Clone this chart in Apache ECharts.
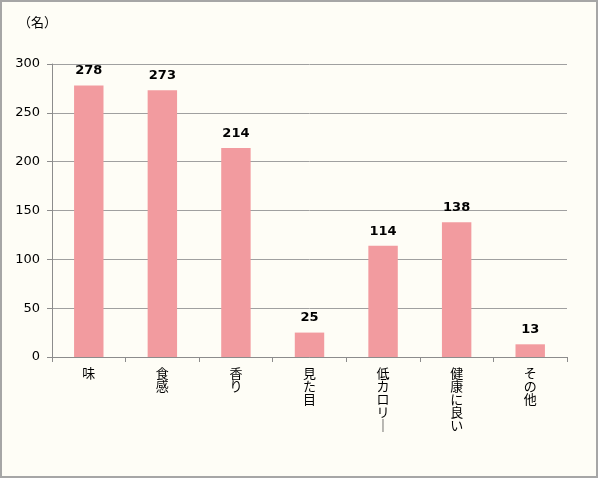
<!DOCTYPE html>
<html><head><meta charset="utf-8">
<script src="https://cdn.jsdelivr.net/npm/echarts@6/dist/echarts.min.js"></script>
<style>
html,body{margin:0;padding:0;background:#fff;}
#frame{position:absolute;left:0;top:0;width:594px;height:474px;border:2px solid #a6a6a6;background:#fefdf6;}
#c{position:absolute;left:-2px;top:-2px;width:600px;height:479px;}
</style></head>
<body>
<div id="frame"><div id="c"></div></div>
<script>
var categories = ['味','食感','香り','見た目','低カロリー','健康に良い','その他'];
var values = [278, 273, 214, 25, 114, 138, 13];
var yTicks = [0, 50, 100, 150, 200, 250, 300];
var unitLabel = '（名）';

var chart = echarts.init(document.getElementById('c'));
chart.setOption({
  backgroundColor: 'transparent',
  animation: false,
  textStyle: {fontFamily: '"DejaVu Sans", "Noto Sans CJK JP", sans-serif'},
  graphic: [{type: 'text', left: 18, top: 16, style: {text: unitLabel, font: '13px "Noto Sans CJK JP"', fill: '#000'}}],
  grid: {left: 52, right: 33, top: 64, bottom: 122},
  xAxis: {
    type: 'category', data: categories,
    axisLine: {lineStyle: {color: '#8c8c8c', width: 1}},
    axisTick: {show: true, length: 5, lineStyle: {color: '#8c8c8c'}},
    axisLabel: {
      margin: 10, color: '#000', fontSize: 13, lineHeight: 13,
      fontFamily: '"Noto Sans CJK JP", sans-serif',
      formatter: function (v) { return v.replace(/ー/g, '｜').split('').join('\n'); }
    }
  },
  yAxis: {
    type: 'value', min: yTicks[0], max: yTicks[yTicks.length - 1], interval: 50,
    axisLine: {show: true, lineStyle: {color: '#8c8c8c'}},
    axisTick: {show: true, length: 5, lineStyle: {color: '#8c8c8c'}},
    axisLabel: {margin: 12, color: '#000', fontSize: 13},
    splitLine: {lineStyle: {color: '#a0a0a0', width: 1}}
  },
  series: [{
    type: 'bar', data: values, barWidth: '40%',
    itemStyle: {color: '#f29b9f'},
    label: {show: true, position: 'top', distance: 8, color: '#000', fontWeight: 'bold', fontSize: 13}
  }]
});
</script>
</body></html>
